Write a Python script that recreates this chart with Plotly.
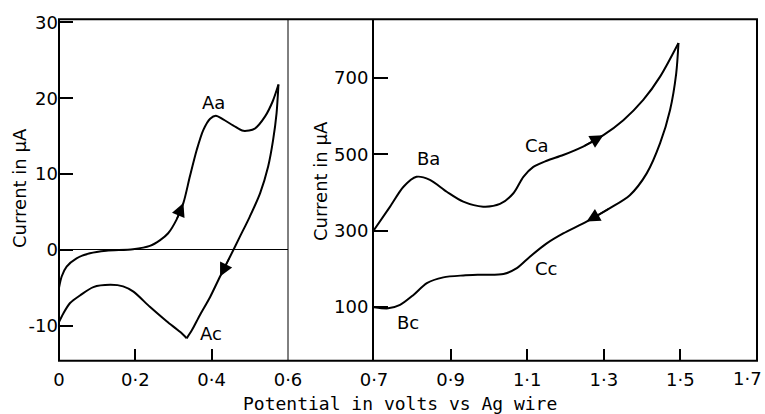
import plotly.graph_objects as go

# ---------------- data ----------------
# Left panel (0 - 0.6 V), current in µA
left_up_v = [0.0, 0.007, 0.02, 0.046, 0.081, 0.124, 0.194, 0.238, 0.265, 0.286, 0.308, 0.326,
             0.343, 0.361, 0.378, 0.396, 0.411, 0.430, 0.457, 0.483, 0.513, 0.540, 0.560, 0.575]
left_up_i = [-5.0, -3.5, -2.2, -1.1, -0.44, -0.1, 0.1, 0.53, 1.3, 2.2, 4.0, 6.2,
             9.7, 13.2, 15.8, 17.3, 17.7, 17.2, 16.4, 15.7, 16.0, 17.6, 19.6, 21.8]
left_down_v = [0.575, 0.570, 0.561, 0.548, 0.527, 0.500, 0.474, 0.448, 0.422, 0.396, 0.369, 0.348, 0.3345]
left_down_i = [21.8, 18.0, 14.5, 11.0, 7.5, 4.4, 1.75, -0.9, -3.5, -6.2, -8.6, -10.6, -11.65]
left_back_v = [0.3345, 0.317, 0.282, 0.238, 0.195, 0.168, 0.134, 0.09, 0.055, 0.029, 0.011, 0.0]
left_back_i = [-11.65, -10.8, -9.4, -7.5, -5.5, -4.8, -4.6, -4.9, -6.0, -7.0, -8.4, -9.5]

# Right panel (0.7 - 1.7 V), current in µA
right_up_v = [0.70, 0.742, 0.777, 0.811, 0.846, 0.890, 0.933, 0.985, 1.029, 1.064, 1.090, 1.116,
              1.151, 1.194, 1.246, 1.299, 1.351, 1.403, 1.447, 1.495]
right_up_i = [302, 363, 415, 441, 433, 402, 376, 363, 370, 398, 441, 467,
              483, 498, 520, 550, 589, 642, 703, 791]
right_down_v = [1.495, 1.489, 1.473, 1.447, 1.412, 1.368, 1.316, 1.255, 1.194, 1.151, 1.107, 1.073,
                1.038, 0.985, 0.933, 0.881, 0.838, 0.803, 0.768, 0.737, 0.70]
right_down_i = [791, 711, 616, 529, 450, 393, 359, 324, 293, 267, 232, 202,
                187, 185, 183, 178, 163, 132, 106, 97, 100]

left_xticks = [0, 0.2, 0.4, 0.6]
left_xtext = ["0", "0·2", "0·4", "0·6"]
right_xticks = [0.7, 0.9, 1.1, 1.3, 1.5, 1.7]
right_xtext = ["0·7", "0·9", "1·1", "1·3", "1·5", "1·7"]
left_yticks = [-10, 0, 10, 20, 30]
left_ytext = ["-10", "0", "10", "20", "30"]
right_yticks = [100, 300, 500, 700]
right_ytext = ["100", "300", "500", "700"]

left_labels = [("Aa", 0.404, 19.4), ("Ac", 0.398, -11.0)]
right_labels = [("Ba", 0.841, 490), ("Bc", 0.789, 61), ("Ca", 1.125, 524), ("Cc", 1.149, 202)]

# ---------------- figure ----------------
W, H = 765, 414
FONT = "DejaVu Sans"
x_l0, x_l1 = 59 / W, 288 / W
x_r0, x_r1 = 374 / W, 757 / W
y0, y1 = (H - 360.7) / H, (H - 19.3) / H

fig = go.Figure()
line = dict(color="black", width=2, shape="spline", smoothing=0.8)
for xs, ys in [(left_up_v, left_up_i), (left_down_v, left_down_i), (left_back_v, left_back_i)]:
    fig.add_trace(go.Scatter(x=xs, y=ys, mode="lines", line=line, xaxis="x", yaxis="y",
                             showlegend=False, hoverinfo="skip"))
for xs, ys in [(right_up_v, right_up_i), (right_down_v, right_down_i)]:
    fig.add_trace(go.Scatter(x=xs, y=ys, mode="lines", line=line, xaxis="x2", yaxis="y2",
                             showlegend=False, hoverinfo="skip"))

annotations = []


def arrow(xs, ys, i, xr, yr):
    return dict(x=xs[i], y=ys[i], ax=xs[i - 1], ay=ys[i - 1], xref=xr, yref=yr,
                axref=xr, ayref=yr, text="", showarrow=True, arrowhead=2,
                arrowsize=1.8, arrowwidth=1.5, arrowcolor="black", standoff=0, startstandoff=0)


annotations.append(arrow(left_up_v, left_up_i, 11, "x", "y"))
annotations.append(arrow(left_down_v, left_down_i, 8, "x", "y"))
annotations.append(arrow(right_up_v, right_up_i, 15, "x2", "y2"))
annotations.append(arrow(right_down_v, right_down_i, 7, "x2", "y2"))

LBL = dict(family=FONT, size=18, color="black")
for t, xv, yv in left_labels:
    annotations.append(dict(x=xv, y=yv, xref="x", yref="y", text=t, showarrow=False, font=LBL))
for t, xv, yv in right_labels:
    annotations.append(dict(x=xv, y=yv, xref="x2", yref="y2", text=t, showarrow=False, font=LBL))

# axis titles
TTL = dict(family=FONT, size=18, color="black")
annotations.append(dict(x=19 / W, y=1 - 188 / H, xref="paper", yref="paper", text="Current in μA",
                        textangle=-90, showarrow=False, xanchor="center", yanchor="middle", font=TTL))
annotations.append(dict(x=321 / W, y=1 - 181 / H, xref="paper", yref="paper", text="Current in μA",
                        textangle=-90, showarrow=False, xanchor="center", yanchor="middle", font=TTL))
annotations.append(dict(x=400 / W, y=1 - 403 / H, xref="paper", yref="paper",
                        text="Potential in volts vs Ag wire", xanchor="center", yanchor="middle",
                        showarrow=False, font=dict(family="DejaVu Sans Mono", size=18, color="black")))

# last right-hand tick label would overflow the page edge; place it flush with the edge
TICKFONT = dict(family=FONT, size=18, color="black")
annotations.append(dict(x=right_xticks[-1], xref="x2", y=1 - 378 / H, yref="paper",
                        text=right_xtext[-1], xanchor="right", xshift=765 - 757 - 1,
                        yanchor="middle", showarrow=False, font=TICKFONT))
right_xtext_axis = right_xtext[:-1] + [""]

ax_common = dict(showgrid=False, ticks="inside", tickcolor="black", tickwidth=1.5, automargin=False,
                 tickfont=TICKFONT, fixedrange=True)

fig.update_layout(
    width=W, height=H, margin=dict(l=0, r=0, t=0, b=0, autoexpand=False),
    paper_bgcolor="white", plot_bgcolor="white",
    xaxis=dict(domain=[x_l0, x_l1], range=[0, 0.6], tickmode="array", tickvals=left_xticks,
               ticktext=left_xtext, ticklen=12, zeroline=False, showline=False, anchor="y",
               ticklabelstandoff=6, **ax_common),
    xaxis2=dict(domain=[x_r0, x_r1], range=[0.7, 1.7], tickmode="array", tickvals=right_xticks,
                ticktext=right_xtext_axis, ticklen=12, zeroline=False, showline=False, anchor="y2",
                ticklabelstandoff=6, **ax_common),
    yaxis=dict(domain=[y0, y1], range=[-14.6, 30.4], tickmode="array", tickvals=left_yticks,
               ticktext=left_ytext, ticklen=14, zeroline=True, zerolinecolor="black",
               zerolinewidth=1, showline=False, anchor="x", **ax_common),
    yaxis2=dict(domain=[y0, y1], range=[-40, 853], tickmode="array", tickvals=right_yticks,
                ticktext=right_ytext, ticklen=14, zeroline=False, showline=True,
                linecolor="black", linewidth=2, anchor="x2", **ax_common),
    annotations=annotations,
    shapes=[
        dict(type="rect", xref="paper", yref="paper", x0=x_l0, x1=x_r1, y0=y0, y1=y1,
             line=dict(color="black", width=2), layer="above"),
        dict(type="line", xref="paper", yref="paper", x0=x_l1, x1=x_l1, y0=y0, y1=y1,
             line=dict(color="black", width=1), layer="above"),
    ],
)

fig.write_html("out.html")
